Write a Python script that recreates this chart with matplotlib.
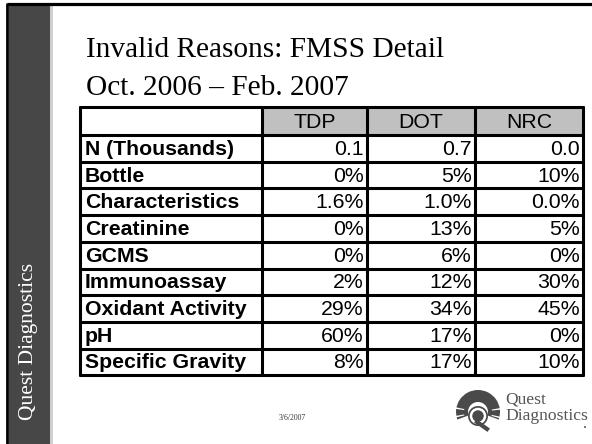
import matplotlib
matplotlib.use("Agg")
import matplotlib.pyplot as plt
from matplotlib.patches import Rectangle, Circle, Wedge
import numpy as np

# ---- data ----
title_lines = ["Invalid Reasons: FMSS Detail", "Oct. 2006 \u2013 Feb. 2007"]
columns = ["TDP", "DOT", "NRC"]
row_labels = ["N (Thousands)", "Bottle", "Characteristics", "Creatinine", "GCMS",
              "Immunoassay", "Oxidant Activity", "pH", "Specific Gravity"]
tdp = ["0.1", "0%", "1.6%", "0%", "0%", "2%", "29%", "60%", "8%"]
dot = ["0.7", "5%", "1.0%", "13%", "6%", "12%", "34%", "17%", "17%"]
nrc = ["0.0", "10%", "0.0%", "5%", "0%", "30%", "45%", "0%", "10%"]
side_label = "Quest Diagnostics"
date_label = "3/6/2007"

W, H = 592, 444
fig = plt.figure(figsize=(W / 100, H / 100), dpi=100)
ax = fig.add_axes([0, 0, 1, 1])
ax.set_xlim(0, W)
ax.set_ylim(H, 0)
ax.axis("off")

serif = "Liberation Serif"
sans = "Liberation Sans"

# slide frame
ax.add_patch(Rectangle((9, 5), 41, H, facecolor="#474747", edgecolor="none"))
ax.add_patch(Rectangle((50, 5), 2.5, H, facecolor="#cfcfcf", edgecolor="none"))
ax.plot([7, W], [4.5, 4.5], color="black", lw=2.3, solid_capstyle="butt")
ax.plot([7, 7], [3, H], color="black", lw=2.0, solid_capstyle="butt")

ax.text(29, 341, side_label, rotation=90, color="white", fontsize=15.5,
        family=serif, ha="center", va="center")

# title
for i, line in enumerate(title_lines):
    ax.text(86, 57 + i * 38, line, fontsize=21.2, family=serif, ha="left",
            va="baseline", color="black")

# table geometry
col_x = [80, 262, 367, 475, 583]
top = 107
header_h = 28
row_h = 26.7
values = [tdp, dot, nrc]
nrows = len(row_labels)
bottom = top + header_h + nrows * row_h
lw_tab = 2.2
fs = 15.3

# header fill
for j in range(len(columns)):
    ax.add_patch(Rectangle((col_x[j + 1], top), col_x[j + 2] - col_x[j + 1], header_h,
                           facecolor="#c0c0c0", edgecolor="none"))
    ax.text((col_x[j + 1] + col_x[j + 2]) / 2, top + header_h / 2 + 1, columns[j],
            fontsize=fs, family=sans, ha="center", va="center")

for i, lab in enumerate(row_labels):
    y0 = top + header_h + i * row_h
    yc = y0 + row_h / 2 + 1
    ax.text(col_x[0] + 5, yc, lab, fontsize=fs, family=sans, weight="bold",
            ha="left", va="center")
    for j in range(len(columns)):
        ax.text(col_x[j + 2] - 3, yc, values[j][i], fontsize=fs, family=sans,
                ha="right", va="center")

# grid lines
ys = [top, top + header_h] + [top + header_h + (i + 1) * row_h for i in range(nrows)]
for y in ys:
    ax.plot([col_x[0] - 1, col_x[-1] + 1], [y, y], color="black", lw=lw_tab,
            solid_capstyle="butt")
for x in col_x:
    ax.plot([x, x], [top - 1, bottom + 1], color="black", lw=lw_tab,
            solid_capstyle="butt")

# footer date
ax.text(292, 420, date_label, fontsize=5.5, family=serif, ha="center",
        va="baseline", color="#333333")

# logo
cx, cy, r = 478, 412, 22
gray = "#4a4a4a"
ax.add_patch(Wedge((cx, cy), r, 160, 380, width=12, facecolor=gray,
                   edgecolor="none"))
for k in range(10):
    ang = 190 - k * 22
    ax.add_patch(Wedge((cx, cy), r + 1, ang - 2, ang + 2, width=9,
                       facecolor="white", edgecolor="none"))
ax.add_patch(Circle((cx, cy + 4), 10, facecolor=gray, edgecolor="none"))
ax.add_patch(Circle((cx, cy + 4), 7, facecolor="none", edgecolor="white", lw=1.8))
ax.plot([cx - 1, cx + 9], [cy + 10, cy + 17], color=gray, lw=3)
ax.text(505, 403, "Quest", fontsize=12.6, family=serif, color="#555555",
        ha="left", va="baseline")
ax.text(505, 420, "Diagnostics", fontsize=12.6, family=serif, color="#555555",
        ha="left", va="baseline")
ax.add_patch(Circle((585, 427), 1.0, facecolor="#555555", edgecolor="none"))

fig.savefig("out.png", dpi=100)
